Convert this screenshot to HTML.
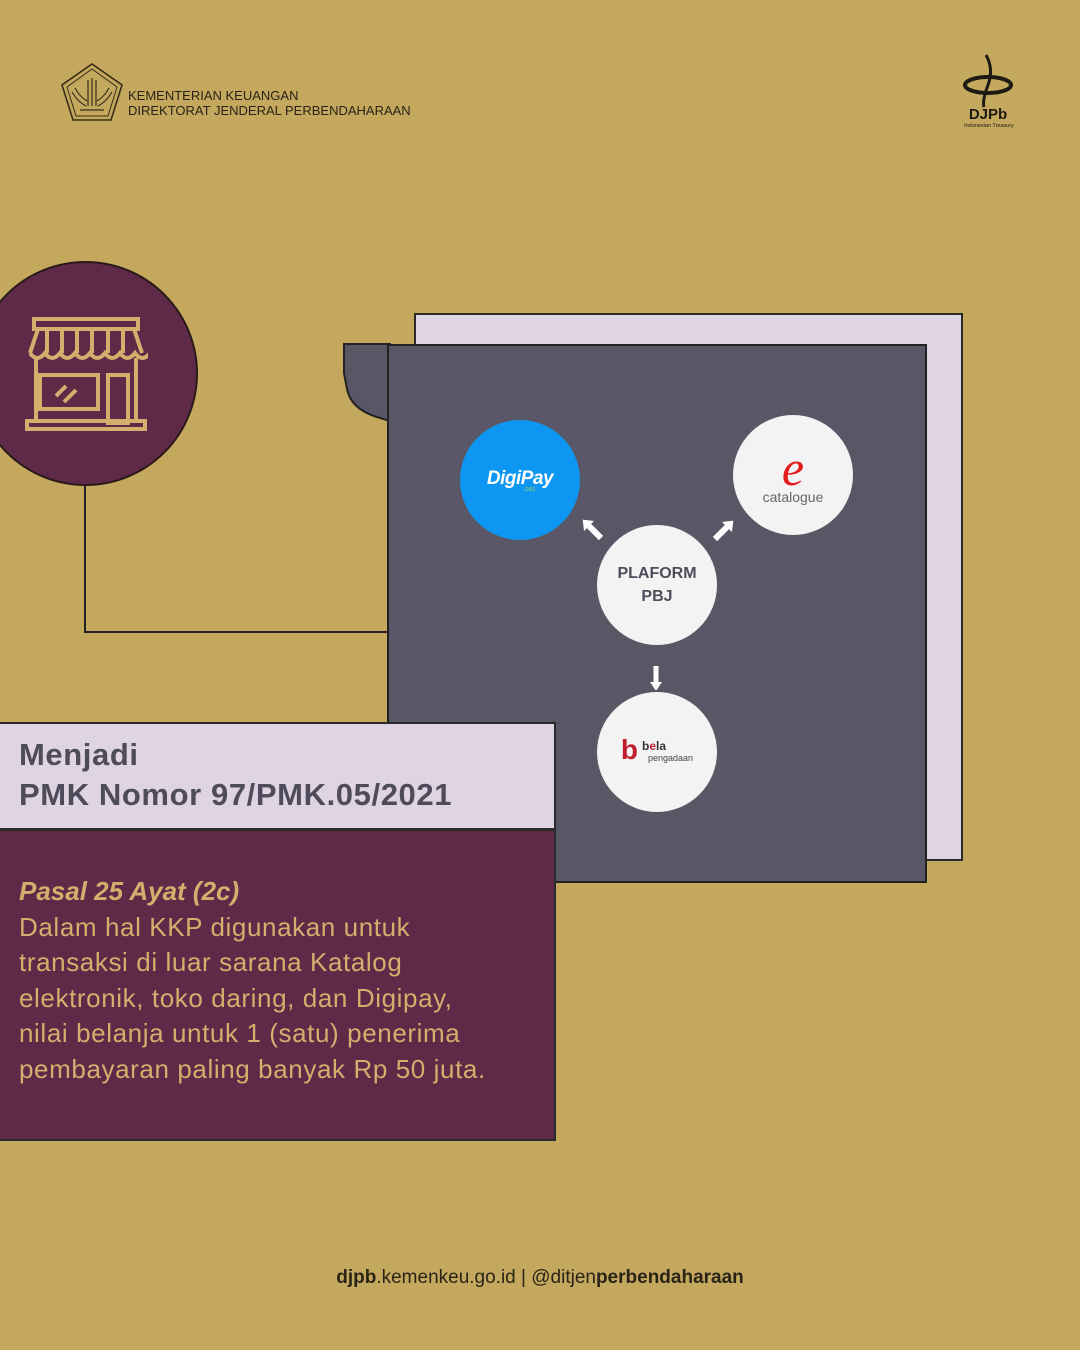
<!DOCTYPE html>
<html><head><meta charset="utf-8">
<style>
*{margin:0;padding:0;box-sizing:border-box}
body{width:1080px;height:1350px;background:#c3a85d;position:relative;overflow:hidden;font-family:"Liberation Sans",sans-serif}
.abs{position:absolute}
.circ{position:absolute;border-radius:50%;display:flex;align-items:center;justify-content:center;flex-direction:column}
</style></head><body>

<svg class="abs" style="left:60px;top:62px" width="64" height="60" viewBox="0 0 64 60">
<polygon points="32,2 62,23 51,58 13,58 2,23" fill="none" stroke="#3a2e1a" stroke-width="1.6"/>
<polygon points="32,7 57,25 48,54 16,54 7,25" fill="none" stroke="#3a2e1a" stroke-width="1"/>
<g stroke="#3a2e1a" stroke-width="1.2" fill="none">
<path d="M28 18v26M32 16v28M36 18v26"/>
<path d="M12 30q6 10 14 14M52 30q-6 10-14 14M15 26q5 9 12 13M49 26q-5 9-12 13"/>
<path d="M20 48h24"/></g></svg>
<div class="abs" style="left:128px;top:88px;font-size:13px;color:#2a2318;line-height:15px">KEMENTERIAN KEUANGAN<br>DIREKTORAT JENDERAL PERBENDAHARAAN</div>

<svg class="abs" style="left:958px;top:52px" width="66" height="80" viewBox="0 0 66 80">
<path d="M28 3q8 14 2 30t-4 22" stroke="#1d1a14" stroke-width="3" fill="none"/>
<ellipse cx="30" cy="33" rx="23" ry="8" fill="none" stroke="#1d1a14" stroke-width="4"/>
<text x="30" y="67" font-size="15" font-weight="bold" text-anchor="middle" fill="#1d1a14" font-family="Liberation Sans,sans-serif">DJPb</text>
<text x="31" y="75" font-size="5.5" text-anchor="middle" fill="#1d1a14" font-family="Liberation Sans,sans-serif">Indonesian Treasury</text>
</svg>

<div class="abs" style="left:84px;top:480px;width:2px;height:153px;background:#222"></div>
<div class="abs" style="left:84px;top:631px;width:305px;height:2px;background:#222"></div>

<div class="abs" style="left:-27px;top:261px;width:225px;height:225px;border-radius:50%;background:#5e2a48;border:2px solid #2a1a1a"></div>
<svg class="abs" style="left:24px;top:316px" width="124" height="116" viewBox="0 0 124 116" fill="none" stroke="#d4ae6c" stroke-width="4">
<rect x="10" y="3" width="104" height="10"/>
<path d="M6 37 L14 13 H110 L118 37"/>
<path d="M23 13v24M38 13v24M53 13v24M68 13v24M84 13v24M99 13v24"/>
<path d="M6 37q7 10 15 0q7 10 15 0q7 10 15 0q7 10 15 0q7 10 15 0q7 10 15 0q7 10 15 0q7 10 15 0"/>
<path d="M12 42v65M112 42v65"/>
<rect x="16" y="59" width="58" height="34"/>
<rect x="84" y="59" width="20" height="48"/>
<path d="M32 80l10-10M40 86l12-12"/>
<rect x="3" y="105" width="118" height="8"/>
</svg>

<div class="abs" style="left:414px;top:313px;width:549px;height:548px;background:#ded4e3;border:2px solid #2a2a2a"></div>
<svg class="abs" style="left:343px;top:343px" width="48" height="80" viewBox="0 0 48 80">
<path d="M1 1 H47 V78 L34 74 Q8 66 4 46 L1 30 Z" fill="#595766" stroke="#222" stroke-width="2"/>
</svg>
<div class="abs" style="left:387px;top:344px;width:540px;height:539px;background:#595766;border:2px solid #222"></div>

<div class="circ" style="left:460px;top:420px;width:120px;height:120px;background:#0d97f2">
<span style="color:#fff;font-style:italic;font-weight:bold;font-size:19px;letter-spacing:-0.5px">DigiPay</span>
<span style="color:#b7d44a;font-size:5px;margin-top:-3px;margin-left:20px">OSS</span></div>
<div class="circ" style="left:733px;top:415px;width:120px;height:120px;background:#f3f3f3">
<span style="color:#e41b1b;font-family:'Liberation Serif',serif;font-style:italic;font-size:50px;line-height:46px">e</span>
<span style="color:#666;font-size:14px;margin-top:-2px">catalogue</span></div>
<div class="circ" style="left:597px;top:525px;width:120px;height:120px;background:#f3f3f3;color:#4e4c5a;font-weight:bold;font-size:16px;line-height:23px;text-align:center">PLAFORM<br>PBJ</div>
<div class="circ" style="left:597px;top:692px;width:120px;height:120px;background:#f3f3f3;flex-direction:row">
<span style="color:#c21f2e;font-weight:bold;font-size:28px;margin-right:4px;margin-top:-4px">b</span>
<span style="display:flex;flex-direction:column;line-height:12px"><span style="color:#333;font-size:12px;font-weight:bold"><span>b</span><span style="color:#c21f2e">e</span>la</span><span style="color:#444;font-size:9px;margin-left:6px">pengadaan</span></span></div>

<svg class="abs" style="left:570px;top:510px" width="180" height="180" viewBox="570 510 180 180" fill="#fff">
<g transform="translate(589,526) rotate(-45)"><rect x="-3" y="0" width="6" height="17"/><polygon points="-7,0 7,0 0,-9"/></g>
<g transform="translate(727,527) rotate(45)"><rect x="-3" y="0" width="6" height="17"/><polygon points="-7,0 7,0 0,-9"/></g>
<g transform="translate(656,682) rotate(180)"><rect x="-2.5" y="0" width="5" height="16"/><polygon points="-6,0 6,0 0,-9"/></g>
</svg>

<div class="abs" style="left:-2px;top:722px;width:558px;height:108px;background:#ded4e3;border:2px solid #2a2a2a"></div>
<div class="abs" style="left:19px;top:735px;font-size:31px;font-weight:bold;color:#4e4c5a;line-height:40px;letter-spacing:0.6px">Menjadi<br>PMK Nomor 97/PMK.05/2021</div>

<div class="abs" style="left:-2px;top:829px;width:558px;height:312px;background:#5e2a48;border:2px solid #2a2a2a"></div>
<div class="abs" style="left:19px;top:874px;color:#d4ae6c;font-size:26px;line-height:35.5px;letter-spacing:0.6px">
<div style="font-weight:bold;font-style:italic;letter-spacing:0">Pasal 25 Ayat (2c)</div>
Dalam hal KKP digunakan untuk<br>transaksi di luar sarana Katalog<br>elektronik, toko daring, dan Digipay,<br>nilai belanja untuk 1 (satu) penerima<br>pembayaran paling banyak Rp 50 juta.
</div>

<div class="abs" style="left:0;top:1267px;width:1080px;text-align:center;font-size:19px;color:#2a2318"><b>djpb</b>.kemenkeu.go.id | @ditjen<b>perbendaharaan</b></div>
</body></html>
